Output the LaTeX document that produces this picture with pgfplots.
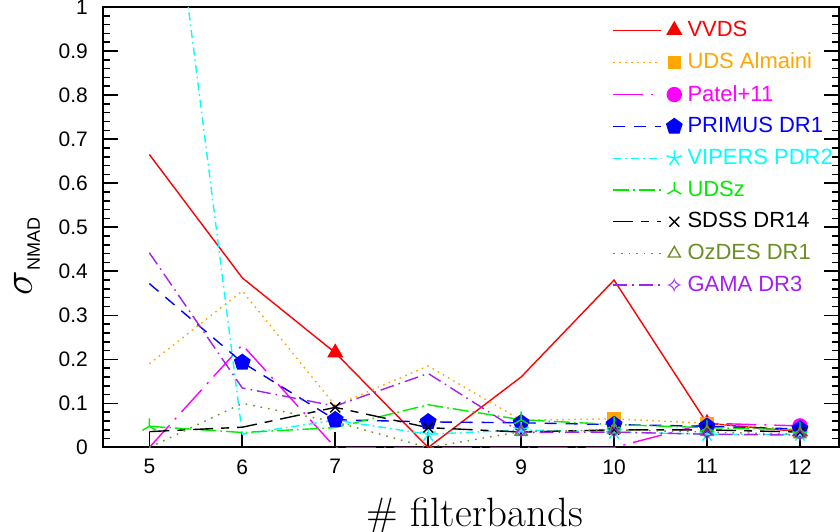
\documentclass[border=0pt]{standalone}
\usepackage{fontspec}
\setsansfont{Liberation Sans}
\newfontfamily\symfont{DejaVu Sans}
\usepackage{pgfplots}
\pgfplotsset{compat=1.18}
\usepackage{pgfplotstable}
\usetikzlibrary{plotmarks,calc}

\definecolor{cVVDS}{rgb}{1,0,0}
\definecolor{cUDS}{rgb}{1,0.65,0}
\definecolor{cPatel}{rgb}{1,0,1}
\definecolor{cPRIMUS}{rgb}{0,0,1}
\definecolor{cVIPERS}{rgb}{0,1,1}
\definecolor{cUDSz}{rgb}{0,0.93,0}
\definecolor{cSDSS}{rgb}{0,0,0}
\definecolor{cOzDES}{rgb}{0.42,0.56,0.14}
\definecolor{cGAMA}{rgb}{0.63,0.13,0.94}

% sigma_NMAD per survey against the number of filter bands
\pgfplotstableread{
nb VVDS  UDS   Patel PRIMUS VIPERS UDSz  SDSS  OzDES GAMA
5  0.665 0.190 0.000 0.372  1.700  0.048 0.036 0.000 0.442
6  0.385 0.355 0.233 0.193  0.030  0.034 0.046 0.100 0.135
7  0.215 0.095 0.000 0.063  0.062  0.045 0.091 0.058 0.094
8  0.000 0.185 0.000 0.058  0.030  0.097 0.045 0.000 0.168
9  0.160 0.062 0.000 0.056  0.040  0.063 0.035 0.036 0.034
10 0.380 0.065 0.000 0.052  0.035  0.052 0.040 0.040 0.035
11 0.055 0.055 0.055 0.048  0.030  0.045 0.040 0.035 0.030
12 0.036 0.040 0.049 0.042  0.030  0.040 0.035 0.030 0.028
}\nmad

\begin{document}
\begin{tikzpicture}
\begin{axis}[
  scale only axis,
  width=368.5pt, height=220.5pt,
  xmin=4.5, xmax=12.42,
  ymin=0, ymax=1,
  clip=true,
  axis line style={line width=1pt},
  tick align=inside,
  xtick={5,...,12},
  xtick pos=bottom,
  ytick={0,0.1,...,1},
  yticklabels={0,0.1,0.2,0.3,0.4,0.5,0.6,0.7,0.8,0.9,1},
  minor y tick num=4,
  ytick pos=both,
  major tick length=7.5pt,
  minor tick length=3.5pt,
  every tick/.style={black, line width=0.8pt},
  /pgf/number format/assume math mode=true,
  ticklabel style={font=\sffamily\fontsize{10.5}{12}\selectfont},
  xticklabel style={yshift=-2.5pt},
  yticklabel style={xshift=-4pt},
  xlabel={\fontsize{20.5}{22}\selectfont\# filterbands},
  xlabel style={at={(axis description cs:0.505,-0.155)}, anchor=center},
  ylabel={{\fontsize{20}{22}\selectfont$\sigma$}\raisebox{-4pt}{\sffamily\fontsize{9}{10}\selectfont NMAD}},
  ylabel style={at={(axis description cs:-0.103,0.433)}, anchor=center},
  every axis plot/.append style={line width=0.7pt, mark options={solid}},
  legend cell align=left,
  legend style={at={(axis description cs:0.692,0.978)}, anchor=north west,
    draw=none, fill=none, inner sep=0pt,
    font=\sffamily\fontsize{11}{12}\selectfont,
    row sep=2.7pt},
  legend image code/.code={
    \draw[#1,mark=none,line width=0.7pt] (0pt,0pt) -- (24pt,0pt);
    \draw[#1,mark indices={1}] plot coordinates {(30.5pt,0pt)};
  },
]
\coordinate (sw) at (rel axis cs:0,0);
\coordinate (ne) at (rel axis cs:1,1);

\addplot[cVVDS, solid, mark=triangle*, mark size=4pt, mark indices={3,7,8}]
  table[x=nb, y=VVDS] {\nmad};
\addlegendentry{\textcolor{cVVDS}{VVDS}}

\addplot[cUDS, dash pattern=on 0.8pt off 2.2pt, mark=square*, mark size=3pt, mark indices={6,7}]
  table[x=nb, y=UDS] {\nmad};
\addlegendentry{\textcolor{cUDS}{UDS Almaini}}

\addplot[cPatel, dash pattern=on 15pt off 4pt on 1pt off 4pt, mark=*, mark size=3.5pt, mark indices={8}]
  table[x=nb, y=Patel] {\nmad};
\addlegendentry{\textcolor{cPatel}{Patel+11}}

\addplot[cPRIMUS, dash pattern=on 6pt off 4.5pt, mark=pentagon*, mark size=4pt, mark indices={2,3,4,5,6,7,8}]
  table[x=nb, y=PRIMUS] {\nmad};
\addlegendentry{\textcolor{cPRIMUS}{PRIMUS DR1}}

\addplot[cVIPERS, dash pattern=on 4pt off 2pt on 0.8pt off 2pt, mark=star, mark size=4pt, mark indices={3,4,5,6,7,8}]
  table[x=nb, y=VIPERS] {\nmad};
\addlegendentry{\textcolor{cVIPERS}{VIPERS PDR2}}

\addplot[cUDSz, dash pattern=on 8pt off 2pt on 0.8pt off 2pt, mark=Mercedes star, mark size=4pt, mark indices={1,5,6,7,8}]
  table[x=nb, y=UDSz] {\nmad};
\addlegendentry{\textcolor{cUDSz}{UDSz}}

\addplot[cSDSS, dash pattern=on 10pt off 4pt on 4pt off 4pt, mark=x, mark size=3.5pt, mark indices={3,4,6,7,8}]
  table[x=nb, y=SDSS] {\nmad};
\addlegendentry{\textcolor{cSDSS}{SDSS DR14}}

\addplot[cOzDES, dash pattern=on 0.8pt off 3pt, mark=triangle, mark size=3.5pt, mark indices={5,6,7,8}]
  table[x=nb, y=OzDES] {\nmad};
\addlegendentry{\textcolor{cOzDES}{OzDES DR1}}

\addplot[cGAMA, dash pattern=on 7pt off 2.5pt on 0.8pt off 2.5pt, mark=text,
  text mark={\symfont\fontsize{11}{11}\selectfont\textcolor{cGAMA}{✧}},
  mark indices={5,6,7,8}]
  table[x=nb, y=GAMA] {\nmad};
\addlegendentry{\textcolor{cGAMA}{GAMA DR3}}
\end{axis}
\pgfresetboundingbox
\path[use as bounding box] ($(sw)+(-51.5pt,-42pt)$) rectangle ($(ne)+(0.5pt,3.5pt)$);
\end{tikzpicture}
\end{document}
